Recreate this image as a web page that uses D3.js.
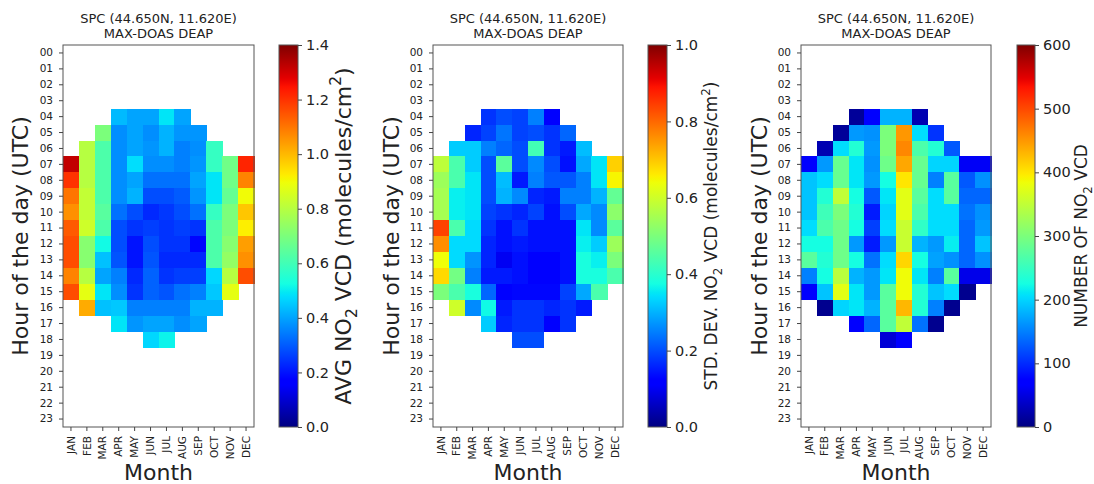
<!DOCTYPE html>
<html>
<head>
<meta charset="utf-8">
<script src="https://cdn.jsdelivr.net/npm/d3@7"></script>
<style>
  body { margin: 0; background: #fff; }
  svg text { font-family: "DejaVu Sans", sans-serif; fill: #222; }
</style>
</head>
<body>
<div id="chart"></div>
<script>
// categories
const months = ["JAN", "FEB", "MAR", "APR", "MAY", "JUN", "JUL", "AUG", "SEP", "OCT", "NOV", "DEC"];
const hourLabels = ["00", "01", "02", "03", "04", "05", "06", "07", "08", "09", "10", "11",
  "12", "13", "14", "15", "16", "17", "18", "19", "20", "21", "22", "23"];
// hours that hold data (rows of the arrays below)
const rowHours = [4, 5, 6, 7, 8, 9, 10, 11, 12, 13, 14, 15, 16, 17, 18];

const n = null;
// AVG NO2 VCD, one row per hour, one column per month
const avgVcd = [
  [n, n, n, 0.43, 0.40, 0.40, 0.49, 0.40, n, n, n, n],
  [n, n, 0.70, 0.37, 0.40, 0.37, 0.42, 0.38, 0.38, n, n, n],
  [n, 0.80, 0.62, 0.37, 0.40, 0.38, 0.42, 0.35, 0.37, 0.58, n, n],
  [1.32, 0.80, 0.62, 0.37, 0.48, 0.37, 0.37, 0.35, 0.38, 0.58, 0.68, 1.22],
  [1.20, 0.80, 0.62, 0.37, 0.40, 0.33, 0.33, 0.33, 0.40, 0.49, 0.68, 1.08],
  [1.10, 0.82, 0.62, 0.37, 0.42, 0.28, 0.28, 0.30, 0.38, 0.49, 0.66, 0.90],
  [1.06, 0.82, 0.64, 0.33, 0.28, 0.23, 0.25, 0.28, 0.33, 0.58, 0.70, 0.98],
  [1.14, 0.84, 0.62, 0.28, 0.245, 0.26, 0.245, 0.26, 0.245, 0.62, 0.70, 0.92],
  [1.16, 0.72, 0.52, 0.28, 0.20, 0.28, 0.245, 0.245, 0.18, 0.62, 0.72, 1.04],
  [1.16, 0.72, 0.44, 0.29, 0.20, 0.29, 0.23, 0.23, 0.23, 0.62, 0.74, 1.06],
  [1.08, 0.80, 0.40, 0.35, 0.23, 0.31, 0.245, 0.26, 0.26, 0.47, 0.80, 1.16],
  [1.16, 0.88, 0.49, 0.37, 0.245, 0.31, 0.29, 0.33, 0.35, 0.45, 0.88, n],
  [n, 1.02, 0.44, 0.45, 0.35, 0.35, 0.35, 0.35, 0.42, 0.42, n, n],
  [n, n, n, 0.49, 0.38, 0.40, 0.40, 0.37, 0.40, n, n, n],
  [n, n, n, n, n, 0.47, 0.51, n, n, n, n, n]
];
// STD. DEV. NO2 VCD
const stdVcd = [
  [n, n, n, 0.175, 0.20, 0.19, 0.25, 0.11, n, n, n, n],
  [n, n, 0.16, 0.19, 0.24, 0.19, 0.20, 0.175, 0.225, n, n, n],
  [n, 0.325, 0.325, 0.25, 0.225, 0.20, 0.43, 0.175, 0.15, 0.31, n, n],
  [0.58, 0.44, 0.325, 0.20, 0.46, 0.20, 0.26, 0.20, 0.14, 0.29, 0.35, 0.69],
  [0.54, 0.44, 0.35, 0.20, 0.31, 0.15, 0.25, 0.21, 0.21, 0.25, 0.35, 0.65],
  [0.55, 0.36, 0.35, 0.20, 0.30, 0.26, 0.16, 0.15, 0.25, 0.25, 0.30, 0.47],
  [0.55, 0.36, 0.35, 0.19, 0.175, 0.16, 0.19, 0.14, 0.20, 0.29, 0.26, 0.52],
  [0.84, 0.44, 0.34, 0.175, 0.14, 0.175, 0.14, 0.14, 0.14, 0.35, 0.26, 0.46],
  [0.76, 0.34, 0.34, 0.16, 0.14, 0.15, 0.14, 0.14, 0.14, 0.36, 0.325, 0.54],
  [0.64, 0.34, 0.27, 0.16, 0.10, 0.14, 0.12, 0.12, 0.14, 0.38, 0.36, 0.50],
  [0.68, 0.49, 0.25, 0.15, 0.15, 0.14, 0.12, 0.12, 0.14, 0.38, 0.38, 0.44],
  [0.50, 0.44, 0.38, 0.225, 0.12, 0.13, 0.13, 0.13, 0.19, 0.29, 0.44, n],
  [n, 0.60, 0.26, 0.37, 0.15, 0.175, 0.175, 0.16, 0.175, 0.15, n, n],
  [n, n, n, 0.325, 0.16, 0.175, 0.175, 0.12, 0.175, n, n, n],
  [n, n, n, n, n, 0.20, 0.20, n, n, n, n, n]
];
// NUMBER OF NO2 VCD
const countVcd = [
  [n, n, n, 13, 70, 180, 180, 26, n, n, n, n],
  [n, n, 13, 165, 160, 300, 450, 205, 105, n, n, n],
  [n, 26, 205, 235, 165, 300, 460, 265, 235, 127, n, n],
  [70, 165, 285, 210, 160, 290, 440, 285, 200, 200, 62, 62],
  [190, 205, 285, 210, 165, 225, 400, 285, 150, 275, 127, 160],
  [190, 235, 350, 225, 127, 210, 375, 275, 205, 275, 135, 135],
  [190, 255, 300, 235, 90, 200, 375, 265, 205, 205, 142, 160],
  [205, 265, 290, 225, 112, 205, 355, 245, 205, 205, 135, 165],
  [225, 225, 290, 165, 90, 165, 355, 180, 165, 215, 135, 190],
  [275, 235, 290, 225, 142, 205, 410, 225, 170, 160, 135, 160],
  [150, 225, 345, 180, 165, 210, 385, 210, 150, 275, 55, 55],
  [70, 190, 375, 210, 165, 275, 385, 235, 190, 205, 8, n],
  [n, 8, 200, 210, 180, 275, 430, 235, 150, 8, n, n],
  [n, n, n, 70, 135, 275, 350, 142, 8, n, n, n],
  [n, n, n, n, n, 45, 70, n, n, n, n, n]
];

// colour bar ticks
const avgTicks = [0, 0.2, 0.4, 0.6, 0.8, 1.0, 1.2, 1.4];
const stdTicks = [0, 0.2, 0.4, 0.6, 0.8, 1.0];
const countTicks = [0, 100, 200, 300, 400, 500, 600];

const titleLines = ["SPC (44.650N, 11.620E)", "MAX-DOAS DEAP"];

// matplotlib "jet"
const jetR = d3.scaleLinear().domain([0, 0.35, 0.66, 0.89, 1]).range([0, 0, 1, 1, 0.5]).clamp(true);
const jetG = d3.scaleLinear().domain([0, 0.125, 0.375, 0.64, 0.91, 1]).range([0, 0, 1, 1, 0, 0]).clamp(true);
const jetB = d3.scaleLinear().domain([0, 0.11, 0.34, 0.65, 1]).range([0.5, 1, 1, 0, 0]).clamp(true);
const jet = t => d3.rgb(jetR(t) * 255, jetG(t) * 255, jetB(t) * 255).formatHex();

const W = 1094, H = 484;
const plotTop = 45, plotBottom = 427;

const panels = [
  {values: avgVcd, max: 1.4, ticks: avgTicks, fmt: d3.format(".1f"),
   label: [["AVG NO"], ["2", "sub"], [" VCD (molecules/cm"], ["2", "sup"], [")"]],
   labelSize: 22, x0: 63, x1: 254, cbX: 279, cbW: 19, labelX: 343, yLabelX: 20},
  {values: stdVcd, max: 1.0, ticks: stdTicks, fmt: d3.format(".1f"),
   label: [["STD. DEV. NO"], ["2", "sub"], [" VCD (molecules/cm"], ["2", "sup"], [")"]],
   labelSize: 17, x0: 433, x1: 623, cbX: 648, cbW: 19, labelX: 711, yLabelX: 391},
  {values: countVcd, max: 600, ticks: countTicks, fmt: d3.format("d"),
   label: [["NUMBER OF NO"], ["2", "sub"], [" VCD"]],
   labelSize: 17, x0: 801, x1: 991, cbX: 1017, cbW: 18, labelX: 1081, yLabelX: 759}
];

const svg = d3.select("#chart").append("svg")
  .attr("width", W)
  .attr("height", H);

const defs = svg.append("defs");
const grad = defs.append("linearGradient")
  .attr("id", "jetGrad")
  .attr("x1", 0).attr("y1", 1).attr("x2", 0).attr("y2", 0);
grad.selectAll("stop")
  .data(d3.range(0, 1.0001, 1 / 128))
  .join("stop")
  .attr("offset", d => d)
  .attr("stop-color", d => jet(d));

// writes a label with sub/superscript parts
function richText(sel, parts, size) {
  let shift = 0;
  parts.forEach(([txt, kind]) => {
    let dy = -shift;
    shift = 0;
    const ts = sel.append("tspan").text(txt);
    if (kind === "sub") { shift = 0.28 * size; ts.attr("font-size", size * 0.7); }
    if (kind === "sup") { shift = -0.42 * size; ts.attr("font-size", size * 0.7); }
    dy += shift;
    if (dy !== 0) ts.attr("dy", dy);
  });
}

panels.forEach(p => {
  const g = svg.append("g");

  const x = d3.scaleBand().domain(months).range([p.x0, p.x1]);
  const y = d3.scaleBand().domain(hourLabels).range([plotTop, plotBottom]);
  const color = d3.scaleSequential(jet).domain([0, p.max]);

  // cells
  const cells = [];
  p.values.forEach((row, i) => row.forEach((v, j) => {
    if (v !== null) cells.push({hour: hourLabels[rowHours[i]], month: months[j], v});
  }));
  g.append("g")
    .attr("shape-rendering", "crispEdges")
    .selectAll("rect")
    .data(cells)
    .join("rect")
    .attr("x", d => x(d.month))
    .attr("y", d => y(d.hour))
    .attr("width", x.bandwidth() + 0.5)
    .attr("height", y.bandwidth() + 0.5)
    .attr("fill", d => color(d.v));

  // frame
  g.append("rect")
    .attr("x", p.x0).attr("y", plotTop)
    .attr("width", p.x1 - p.x0).attr("height", plotBottom - plotTop)
    .attr("fill", "none")
    .attr("stroke", "#555")
    .attr("stroke-width", 1);

  // axes
  const yAxisG = g.append("g")
    .attr("transform", `translate(${p.x0},0)`)
    .call(d3.axisLeft(y).tickSize(4).tickPadding(6).tickSizeOuter(0));
  yAxisG.select(".domain").remove();
  yAxisG.selectAll("text").attr("font-size", 10.5).attr("font-family", null);
  yAxisG.selectAll("line").attr("stroke", "#444");

  const xAxisG = g.append("g")
    .attr("transform", `translate(0,${plotBottom})`)
    .call(d3.axisBottom(x).tickSize(4).tickPadding(6).tickSizeOuter(0));
  xAxisG.select(".domain").remove();
  xAxisG.selectAll("line").attr("stroke", "#444");
  xAxisG.selectAll("text")
    .attr("font-size", 10.5)
    .attr("font-family", null)
    .attr("text-anchor", "end")
    .attr("transform", "rotate(-90)")
    .attr("x", -9)
    .attr("y", 0)
    .attr("dy", "0.35em");

  // titles
  g.selectAll(".title")
    .data(titleLines)
    .join("text")
    .attr("class", "title")
    .attr("x", (p.x0 + p.x1) / 2)
    .attr("y", (d, i) => 23 + i * 14.5)
    .attr("text-anchor", "middle")
    .attr("font-size", 13)
    .text(d => d);

  g.append("text")
    .attr("transform", `translate(${(p.x0 + p.x1) / 2},480)`)
    .attr("text-anchor", "middle")
    .attr("font-size", 22)
    .text("Month");

  g.append("text")
    .attr("transform", `translate(${p.yLabelX},${(plotTop + plotBottom) / 2}) rotate(-90)`)
    .attr("text-anchor", "middle")
    .attr("dy", "0.35em")
    .attr("font-size", 22)
    .text("Hour of the day (UTC)");

  // colour bar
  g.append("rect")
    .attr("x", p.cbX).attr("y", plotTop)
    .attr("width", p.cbW).attr("height", plotBottom - plotTop)
    .attr("fill", "url(#jetGrad)")
    .attr("stroke", "#555")
    .attr("stroke-width", 1);

  const cbScale = d3.scaleLinear().domain([0, p.max]).range([plotBottom, plotTop]);
  const cbAxisG = g.append("g")
    .attr("transform", `translate(${p.cbX + p.cbW},0)`)
    .call(d3.axisRight(cbScale).tickValues(p.ticks).tickFormat(p.fmt).tickSize(4).tickPadding(4).tickSizeOuter(0));
  cbAxisG.select(".domain").remove();
  cbAxisG.selectAll("line").attr("stroke", "#444");
  cbAxisG.selectAll("text").attr("font-size", 14.5).attr("font-family", null);

  const cbLabel = g.append("text")
    .attr("transform", `translate(${p.labelX},${(plotTop + plotBottom) / 2}) rotate(-90)`)
    .attr("text-anchor", "middle")
    .attr("dy", "0.35em")
    .attr("font-size", p.labelSize);
  richText(cbLabel, p.label, p.labelSize);
});
</script>
</body>
</html>
